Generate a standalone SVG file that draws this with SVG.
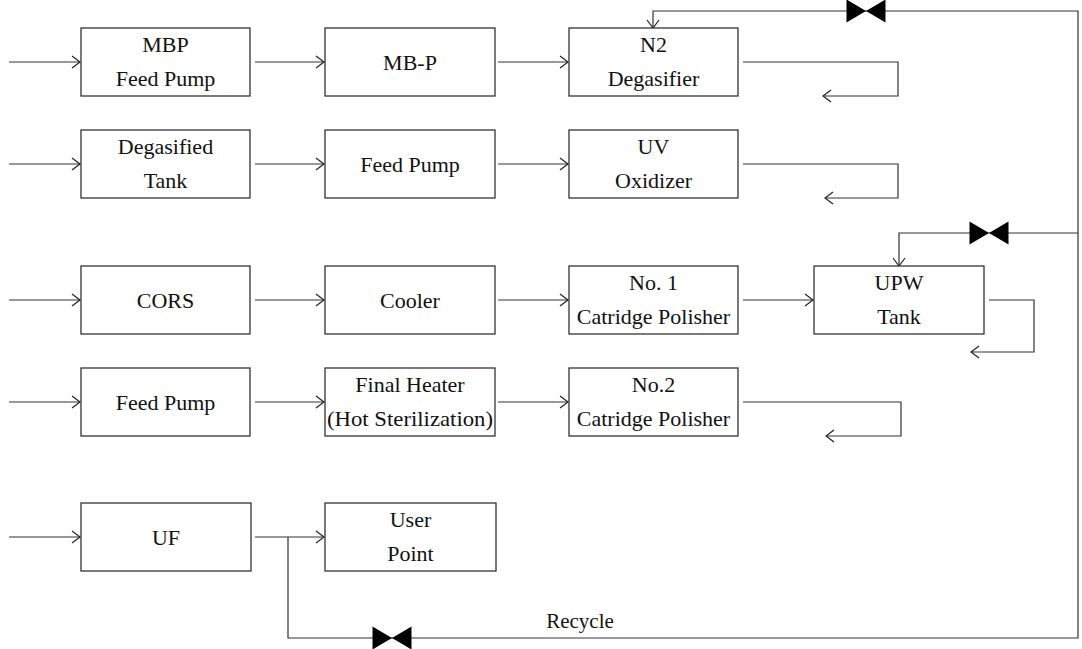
<svg xmlns="http://www.w3.org/2000/svg" width="1082" height="649" viewBox="0 0 1082 649">
<style>
.box{fill:#fff;stroke:#333;stroke-width:1.3}
.lbl{font-family:'Liberation Serif','DejaVu Serif','Noto Serif',serif;font-size:22px;fill:#111;text-anchor:middle}
.ln{fill:none;stroke:#333;stroke-width:1.2}
.arr{marker-end:url(#ah)}
.valve{fill:#000}
</style>
<defs>
<marker id="ah" viewBox="0 0 10 14" refX="9" refY="7" markerWidth="10" markerHeight="14" markerUnits="userSpaceOnUse" orient="auto">
<path d="M1,1 L9,7 L1,13" fill="none" stroke="#222" stroke-width="1.2"/>
</marker>
<path id="bowtie" d="M-19.5,-11.5 L0,0 L19.5,-11.5 L19.5,11.5 L0,0 L-19.5,11.5 Z"/>
</defs>
<rect width="1082" height="649" fill="#fff"/>
<g id="connectors">
<path class="ln arr" d="M9,62 H80"/>
<path class="ln arr" d="M9,164 H80"/>
<path class="ln arr" d="M9,300 H80"/>
<path class="ln arr" d="M9,402 H80"/>
<path class="ln arr" d="M9,537 H80"/>
<path class="ln arr" d="M255,62 H324"/>
<path class="ln arr" d="M255,164 H324"/>
<path class="ln arr" d="M255,300 H324"/>
<path class="ln arr" d="M255,402 H324"/>
<path class="ln arr" d="M255,537 H324"/>
<path class="ln arr" d="M498,62 H568"/>
<path class="ln arr" d="M498,164 H568"/>
<path class="ln arr" d="M498,300 H568"/>
<path class="ln arr" d="M498,402 H568"/>
<path class="ln arr" d="M743,300 H813"/>
<path class="ln arr" d="M743,62 H898 V96 H823"/>
<path class="ln arr" d="M743,164 H898 V198 H825"/>
<path class="ln arr" d="M743,402 H901 V436 H826"/>
<path class="ln arr" d="M989,300 H1034 V352 H971"/>
<path class="ln arr" d="M288,537 V638 H1078 V11 H653 V28"/>
<path class="ln arr" d="M1078,233 H899 V266"/>
<use href="#bowtie" class="valve" transform="translate(866,11)"/>
<use href="#bowtie" class="valve" transform="translate(989,233)"/>
<use href="#bowtie" class="valve" transform="translate(392,638)"/>
<text class="lbl" x="580" y="628" font-family="Liberation Serif, serif" style="font-size:21px">Recycle</text>
</g>
<g id="mbp-feed-pump"><rect class="box" x="81" y="28" width="169" height="68"/><text class="lbl" x="165.5" y="52">MBP</text><text class="lbl" x="165.5" y="86">Feed Pump</text></g>
<g id="mb-p"><rect class="box" x="325" y="28" width="170" height="68"/><text class="lbl" x="410" y="70">MB-P</text></g>
<g id="n2-degasifier"><rect class="box" x="569" y="28" width="169" height="68"/><text class="lbl" x="653.5" y="52">N2</text><text class="lbl" x="653.5" y="86">Degasifier</text></g>
<g id="degasified-tank"><rect class="box" x="81" y="130" width="169" height="68"/><text class="lbl" x="165.5" y="154">Degasified</text><text class="lbl" x="165.5" y="188">Tank</text></g>
<g id="feed-pump-2"><rect class="box" x="325" y="130" width="170" height="68"/><text class="lbl" x="410" y="172">Feed Pump</text></g>
<g id="uv-oxidizer"><rect class="box" x="569" y="130" width="169" height="68"/><text class="lbl" x="653.5" y="154">UV</text><text class="lbl" x="653.5" y="188">Oxidizer</text></g>
<g id="cors"><rect class="box" x="81" y="266" width="169" height="68"/><text class="lbl" x="165.5" y="308">CORS</text></g>
<g id="cooler"><rect class="box" x="325" y="266" width="170" height="68"/><text class="lbl" x="410" y="308">Cooler</text></g>
<g id="no1-polisher"><rect class="box" x="569" y="266" width="169" height="68"/><text class="lbl" x="653.5" y="290">No. 1</text><text class="lbl" x="653.5" y="324">Catridge Polisher</text></g>
<g id="upw-tank"><rect class="box" x="814" y="266" width="170" height="68"/><text class="lbl" x="899" y="290">UPW</text><text class="lbl" x="899" y="324">Tank</text></g>
<g id="feed-pump-4"><rect class="box" x="81" y="368" width="169" height="68"/><text class="lbl" x="165.5" y="410">Feed Pump</text></g>
<g id="final-heater"><rect class="box" x="325" y="368" width="170" height="68"/><text class="lbl" x="410" y="392">Final Heater</text><text class="lbl" x="410" y="426" textLength="166" lengthAdjust="spacingAndGlyphs">(Hot Sterilization)</text></g>
<g id="no2-polisher"><rect class="box" x="569" y="368" width="169" height="68"/><text class="lbl" x="653.5" y="392">No.2</text><text class="lbl" x="653.5" y="426">Catridge Polisher</text></g>
<g id="uf"><rect class="box" x="81" y="503" width="170" height="68"/><text class="lbl" x="166" y="545">UF</text></g>
<g id="user-point"><rect class="box" x="325" y="503" width="171" height="68"/><text class="lbl" x="410.5" y="527">User</text><text class="lbl" x="410.5" y="561">Point</text></g>
</svg>
